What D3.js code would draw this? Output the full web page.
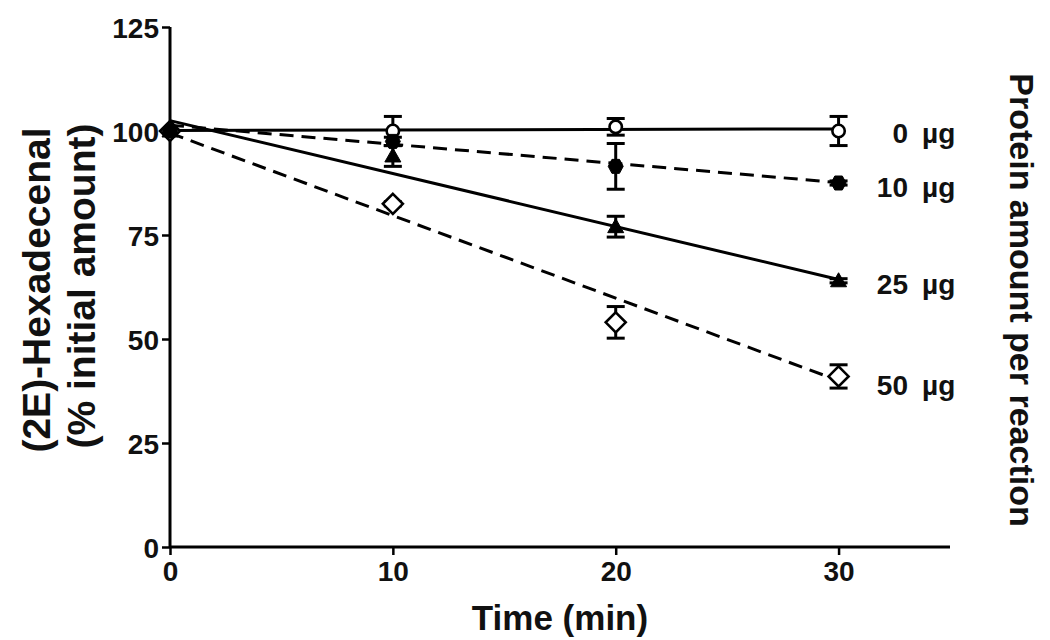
<!DOCTYPE html>
<html>
<head>
<meta charset="utf-8">
<script src="https://cdn.jsdelivr.net/npm/d3@7"></script>
<style>
  html, body { margin: 0; padding: 0; background: #fff; }
  svg { display: block; font-family: "Liberation Sans", Arial, Helvetica, sans-serif; font-weight: bold; }
</style>
</head>
<body>
<svg id="chart" width="1050" height="640"></svg>
<script>
// ---- Data ----
const times = [0, 10, 20, 30];
const seriesNames = ["0 µg", "10 µg", "25 µg", "50 µg"];
const seriesAmounts = ["0", "10", "25", "50"];
const mean0  = [100, 100, 101, 100];
const err0   = [0, 3.5, 2, 3.5];
const mean10 = [100, 97.5, 91.5, 87.5];
const err10  = [0, 1, 5.5, 0.5];
const mean25 = [100, 94, 77, 64];
const err25  = [0, 2.5, 2.5, 0.5];
const mean50 = [100, 82.5, 54, 41];
const err50  = [0, 0.5, 3.8, 2.8];
// linear-fit line values at t = 0 and t = 30
const fit0  = [100.1, 100.5];
const fit10 = [101.4, 87.6];
const fit25 = [102.5, 64.3];
const fit50 = [99.5, 40];
const fitTimes = [0, 30];
const xTicks = [0, 10, 20, 30];
const yTicks = [0, 25, 50, 75, 100, 125];
const xTitle = "Time (min)";
const yTitle1 = "(2E)-Hexadecenal";
const yTitle2 = "(% initial amount)";
const rightTitle = "Protein amount per reaction";

// ---- Layout ----
const svg = d3.select("#chart");
const x = d3.scaleLinear().domain([0, 35]).range([170, 950]);
const y = d3.scaleLinear().domain([0, 125]).range([547, 27]);

const series = [
  { name: seriesNames[0], amt: seriesAmounts[0], mean: mean0,  err: err0,  fit: fit0,  dashed: false, shape: "circle" },
  { name: seriesNames[1], amt: seriesAmounts[1], mean: mean10, err: err10, fit: fit10, dashed: true,  shape: "hexagon" },
  { name: seriesNames[2], amt: seriesAmounts[2], mean: mean25, err: err25, fit: fit25, dashed: false, shape: "triangle" },
  { name: seriesNames[3], amt: seriesAmounts[3], mean: mean50, err: err50, fit: fit50, dashed: true,  shape: "diamond" }
];

// ---- Axes ----
const xAxis = d3.axisBottom(x).tickValues(xTicks).tickSize(8).tickPadding(6).tickFormat(d3.format("d"));
const yAxis = d3.axisLeft(y).tickValues(yTicks).tickSize(8).tickPadding(3).tickFormat(d3.format("d"));

const gx = svg.append("g").attr("transform", `translate(0,${y(0)})`).call(xAxis);
const gy = svg.append("g").attr("transform", `translate(${x(0)},0)`).call(yAxis);
[gx, gy].forEach(g => {
  g.attr("font-family", '"Liberation Sans", Arial, sans-serif').attr("font-size", 28);
  g.select(".domain").attr("stroke", "#000").attr("stroke-width", 3);
  g.selectAll(".tick line").attr("stroke", "#000").attr("stroke-width", 2.5);
  g.selectAll(".tick text").attr("fill", "#111").attr("font-size", 28).attr("font-weight", "bold");
});
gx.select(".domain").attr("d", `M${x(0)},0H${x(35)}`);
gy.select(".domain").attr("d", `M0,${y(125)}V${y(0)}`);
gx.selectAll(".tick text").attr("dy", "0.71em");
gy.selectAll(".tick text").attr("dy", "0.36em");

// ---- Fit lines ----
const line = d3.line().x((d, i) => x(fitTimes[i])).y(d => y(d));
svg.append("g").selectAll("path.fit").data(series).join("path")
  .attr("class", "fit")
  .attr("d", s => line(s.fit))
  .attr("fill", "none")
  .attr("stroke", "#000")
  .attr("stroke-width", 3)
  .attr("stroke-dasharray", s => s.dashed ? "14,8" : null);

// ---- Error bars ----
const capW = 9;
const eg = svg.append("g");
series.forEach(s => {
  s.mean.forEach((m, i) => {
    const e = s.err[i];
    if (!e) return;
    const cx = x(times[i]);
    eg.append("line").attr("x1", cx).attr("x2", cx).attr("y1", y(m + e)).attr("y2", y(m - e))
      .attr("stroke", "#000").attr("stroke-width", 3);
    [m + e, m - e].forEach(v => {
      eg.append("line").attr("x1", cx - capW).attr("x2", cx + capW).attr("y1", y(v)).attr("y2", y(v))
        .attr("stroke", "#000").attr("stroke-width", 3);
    });
  });
});

// ---- Markers ----
function shapePath(shape) {
  if (shape === "hexagon") {
    const rx = 7.5, ry = 7;
    return `M${-rx},0L${-rx/2},${-ry}L${rx/2},${-ry}L${rx},0L${rx/2},${ry}L${-rx/2},${ry}Z`;
  }
  if (shape === "triangle") return "M0,-8L8,6L-8,6Z";
  if (shape === "diamond") return "M0,-10L10,0L0,10L-10,0Z";
  return d3.symbol(d3.symbolCircle, Math.PI * 6.2 * 6.2)();
}
const mg = svg.append("g");
const openFirst = [series[3], series[0], series[1], series[2]];
openFirst.forEach(s => {
  const open = s.shape === "circle" || s.shape === "diamond";
  mg.append("g").selectAll("path").data(s.mean).join("path")
    .attr("transform", (d, i) => `translate(${x(times[i])},${y(d)})`)
    .attr("d", shapePath(s.shape))
    .attr("fill", open ? "#fff" : "#000")
    .attr("stroke", "#000")
    .attr("stroke-width", open ? 2.6 : 1);
});

// ---- Series labels on the right ----
const lg = svg.append("g").attr("font-size", 28).attr("fill", "#111");
series.forEach(s => {
  const by = y(s.fit[1]) + 14;
  lg.append("text").attr("x", 908).attr("y", by).attr("text-anchor", "end").text(s.amt);
  lg.append("text").attr("x", 922).attr("y", by).attr("text-anchor", "start").text("µg");
});

// ---- Axis titles ----
svg.append("text").attr("x", 560).attr("y", 630).attr("text-anchor", "middle")
  .attr("font-size", 35).attr("fill", "#111").text(xTitle);

svg.append("text").attr("transform", "translate(50,290) rotate(-90)").attr("text-anchor", "middle")
  .attr("font-size", 39).attr("fill", "#111").text(yTitle1);
svg.append("text").attr("transform", "translate(95,286) rotate(-90)").attr("text-anchor", "middle")
  .attr("font-size", 39).attr("fill", "#111").text(yTitle2);

svg.append("text").attr("transform", "translate(1010,300) rotate(90)").attr("text-anchor", "middle")
  .attr("font-size", 34).attr("fill", "#111").text(rightTitle);
</script>
</body>
</html>
